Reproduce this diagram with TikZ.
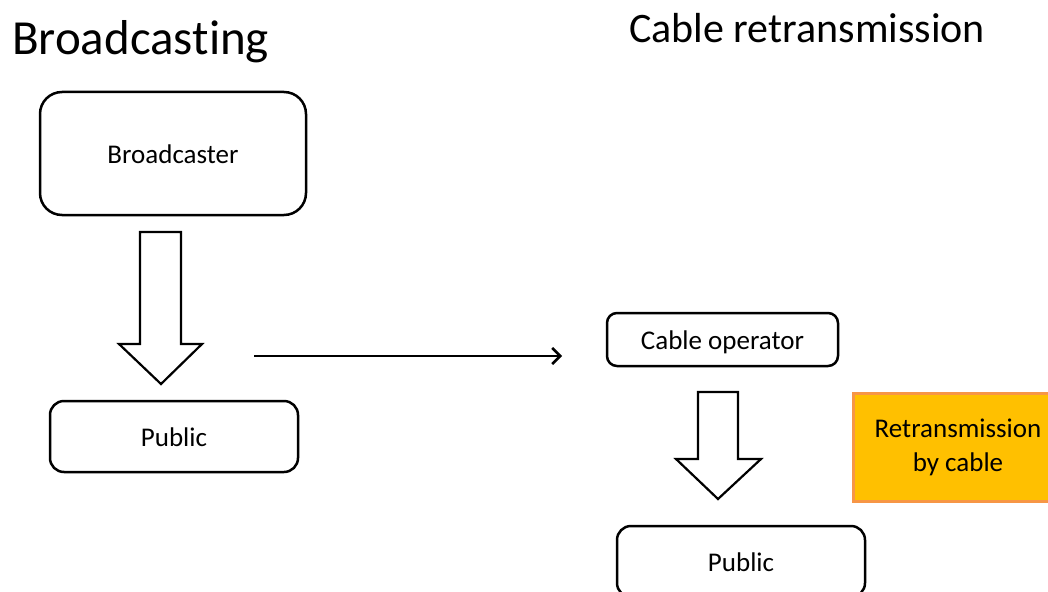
\documentclass[tikz,border=0pt]{standalone}
\usepackage{fontspec}
\setmainfont{Carlito}[Ligatures=NoCommon, RawFeature={-liga;-clig;-calt}]
\usetikzlibrary{arrows.meta}
\definecolor{boxorange}{HTML}{FFC000}
\definecolor{edgeorange}{HTML}{F79646}

\begin{document}
\begin{tikzpicture}[x=1pt,y=-1pt,
    box/.style={draw, line width=2.5pt, inner sep=0pt, font=\fontsize{27}{34}\selectfont},
    linebox/.style={box, text height=25pt, text depth=5pt},
    title/.style={anchor=base west, inner sep=0pt},
    blockarrow/.style={draw, line width=2.2pt, line join=miter, fill=white}]
    \clip (0,0) rectangle (1048,591);

    % Left - Broadcasting
    \node[title, font=\fontsize{49}{58}\selectfont] (bctitle) at (12,55) {Broadcasting};
    \node[linebox, rounded corners=22pt, minimum width=266pt, minimum height=123pt] (broadcaster) at (173,153.5) {Broadcaster};
    \draw[blockarrow] (140,232) -- (181,232) -- (181,344) -- (202,344) -- (161,384) -- (119,344) -- (140,344) -- cycle;
    \node[linebox, rounded corners=14pt, minimum width=248pt, minimum height=71pt] (public) at (174,436.5) {Public};

    % Arrow between the two halves
    \coordinate (hstart) at (254,356);
    \coordinate (hend) at (562,356);
    \draw[line width=2.6pt, -{Straight Barb[length=8pt,width=16pt]}] (hstart) -- (hend);

    % Right - Cable retransmission
    \node[title, font=\fontsize{42}{50}\selectfont] (cabletitle) at (629,43) {Cable retransmission};
    \node[linebox, rounded corners=10pt, minimum width=231pt, minimum height=53pt] (operator) at (722.5,339.5) {Cable operator};
    \draw[blockarrow] (698,392) -- (738,392) -- (738,459) -- (761,459) -- (718,499) -- (676,459) -- (698,459) -- cycle;
    \node[linebox, rounded corners=14pt, minimum width=248pt, minimum height=71pt] (cablepublic) at (741,561.5) {Public};
    \node[box, draw=edgeorange, fill=boxorange, line width=3pt, minimum width=210pt, minimum height=108pt, align=center] (retrans) at (958,447) {Retransmission\\by cable};
\end{tikzpicture}
\end{document}
